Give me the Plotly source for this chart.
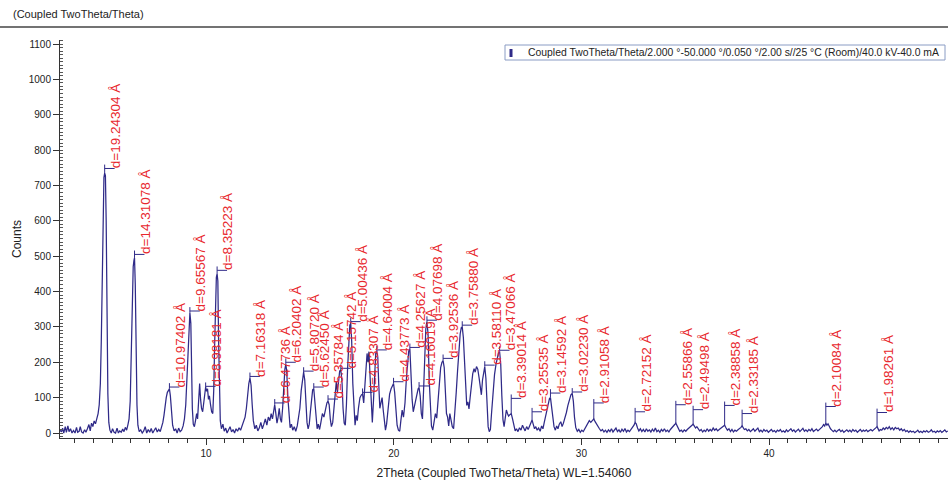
import plotly.graph_objects as go

# ---------------- data ----------------
two_theta = [
    2.22, 2.3, 2.36, 2.42, 2.5, 2.56, 2.64, 2.7, 2.78, 2.86, 2.94, 3.02, 3.1, 3.16, 3.24, 3.3, 3.37, 3.45, 3.53, 3.6,
    3.68, 3.76, 3.83, 3.9, 3.97, 4.04, 4.11, 4.18, 4.25, 4.31, 4.37, 4.42, 4.47, 4.52, 4.56, 4.6, 4.64, 4.68, 4.72, 4.77,
    4.82, 4.88, 4.95, 5.02, 5.1, 5.18, 5.26, 5.33, 5.4, 5.48, 5.56, 5.63, 5.7, 5.77, 5.84, 5.9, 5.96, 6.02, 6.07, 6.12,
    6.16, 6.19, 6.23, 6.27, 6.32, 6.37, 6.44,
    6.52, 6.6, 6.68, 6.76, 6.84, 6.92, 7.0, 7.08, 7.16, 7.24, 7.32, 7.4, 7.48, 7.56, 7.64, 7.7, 7.76, 7.82, 7.88, 7.94,
    8.0, 8.05, 8.1, 8.16, 8.22, 8.3, 8.38, 8.46, 8.54, 8.62, 8.7, 8.78, 8.85, 8.92, 8.98, 9.04, 9.09, 9.14, 9.19, 9.23,
    9.27, 9.32, 9.38, 9.44, 9.5, 9.55, 9.6, 9.66, 9.71, 9.76, 9.82, 9.88, 9.93, 9.98, 10.03, 10.08, 10.13, 10.18, 10.24, 10.3,
    10.36, 10.41, 10.46, 10.5, 10.55, 10.59, 10.63, 10.67, 10.71, 10.76, 10.82, 10.9, 10.97,
    11.05, 11.12, 11.2, 11.28, 11.36, 11.44, 11.52, 11.6, 11.68, 11.76, 11.84, 11.92, 12.0, 12.08, 12.15, 12.22, 12.28, 12.34, 12.4, 12.46,
    12.52, 12.6, 12.68, 12.76, 12.84, 12.92, 13.0, 13.08, 13.16, 13.24, 13.32, 13.4, 13.47, 13.54, 13.6, 13.66, 13.72, 13.78, 13.84, 13.9,
    13.96, 14.02, 14.08, 14.14, 14.2, 14.25, 14.3, 14.36, 14.42, 14.48, 14.55, 14.62, 14.7, 14.78, 14.86, 14.93, 15.0, 15.07, 15.14, 15.2,
    15.26, 15.32, 15.38, 15.44, 15.5, 15.56, 15.62, 15.68, 15.74, 15.8, 15.86, 15.92, 15.98, 16.05, 16.12, 16.2, 16.28, 16.36, 16.44, 16.5,
    16.56, 16.62, 16.68, 16.75, 16.82, 16.88, 16.94, 17.0, 17.06, 17.12, 17.18, 17.24, 17.3, 17.36, 17.42, 17.48, 17.54, 17.6, 17.66, 17.71,
    17.76, 17.82, 17.88, 17.94, 18.0, 18.06, 18.12, 18.2, 18.28, 18.34, 18.4, 18.46, 18.52, 18.58, 18.63, 18.68, 18.74, 18.8, 18.86, 18.92,
    18.98, 19.04, 19.1, 19.15, 19.2, 19.26, 19.32, 19.38, 19.44, 19.5, 19.56, 19.62, 19.7, 19.78, 19.86, 19.93, 19.99, 20.05, 20.11, 20.18,
    20.25,
    20.32, 20.38, 20.45, 20.52, 20.6, 20.67, 20.74, 20.8, 20.86, 20.92, 20.98, 21.04, 21.1, 21.17, 21.24, 21.3, 21.35, 21.41, 21.47, 21.53,
    21.59, 21.65, 21.71, 21.77, 21.83, 21.89, 21.95, 22.01, 22.08, 22.15, 22.22, 22.29, 22.36, 22.43, 22.5, 22.57, 22.63, 22.69, 22.75, 22.81,
    22.87, 22.93, 22.99, 23.05, 23.12, 23.19, 23.26, 23.33, 23.4, 23.47, 23.54, 23.6, 23.65, 23.71, 23.77, 23.83, 23.89, 23.95, 24.01, 24.07,
    24.14, 24.21, 24.28, 24.34, 24.41, 24.48, 24.55, 24.61, 24.67, 24.73, 24.79, 24.85, 24.91, 24.97, 25.03, 25.09, 25.15, 25.21, 25.29, 25.37,
    25.45, 25.52, 25.58, 25.64, 25.7, 25.76, 25.82, 25.88, 25.94, 26.0, 26.06, 26.12, 26.19, 26.26, 26.33, 26.4, 26.47,
    26.54, 26.62, 26.7, 26.78, 26.86, 26.93, 27.0, 27.08, 27.16, 27.24, 27.31, 27.37, 27.43, 27.5, 27.57, 27.64, 27.72, 27.8, 27.88, 27.95,
    28.02, 28.1, 28.17, 28.24, 28.3, 28.35, 28.41, 28.47, 28.54, 28.61, 28.68, 28.75, 28.82, 28.9, 28.97, 29.04, 29.12, 29.2, 29.28, 29.36,
    29.44, 29.51, 29.57, 29.63, 29.7, 29.78, 29.86, 29.94, 30.02, 30.1, 30.18, 30.26, 30.34, 30.42, 30.5, 30.58, 30.66, 30.73, 30.8, 30.88,
    30.96, 31.04, 31.12, 31.2, 31.28, 31.36, 31.44, 31.52, 31.6, 31.68, 31.76, 31.84, 31.92, 32.0, 32.08, 32.16, 32.24, 32.32, 32.4, 32.48,
    32.56, 32.64, 32.72, 32.8, 32.86, 32.92, 32.99, 33.06, 33.14, 33.22, 33.3, 33.38, 33.46, 33.54, 33.62, 33.7, 33.78, 33.86, 33.94, 34.02,
    34.1, 34.18, 34.26, 34.34, 34.42, 34.5, 34.58, 34.66, 34.74, 34.82, 34.9, 34.97, 35.03, 35.09, 35.16, 35.24, 35.32, 35.4, 35.48, 35.56,
    35.64, 35.72, 35.8, 35.88, 35.95, 36.01, 36.08, 36.15, 36.22, 36.3, 36.38, 36.46, 36.54, 36.62, 36.7, 36.78, 36.86, 36.94, 37.02, 37.1,
    37.18, 37.26, 37.34, 37.42, 37.5, 37.57, 37.63, 37.7, 37.78, 37.86, 37.94, 38.02, 38.1, 38.18, 38.26, 38.34, 38.42, 38.5, 38.56, 38.62,
    38.68, 38.76, 38.84, 38.92, 39.0, 39.08, 39.16, 39.24, 39.32, 39.4, 39.48, 39.56, 39.64, 39.72, 39.8, 39.88, 39.96, 40.04, 40.12, 40.2,
    40.28, 40.36, 40.44, 40.52, 40.6, 40.68, 40.76, 40.84, 40.92, 41.0, 41.08, 41.16, 41.24, 41.32, 41.4, 41.48, 41.56, 41.64, 41.72, 41.8,
    41.88, 41.96, 42.04, 42.12, 42.2, 42.28, 42.36, 42.44, 42.52, 42.6, 42.68, 42.76, 42.84, 42.9, 42.96, 43.02, 43.08, 43.14, 43.2, 43.27,
    43.34, 43.42, 43.5, 43.58, 43.66, 43.74, 43.82, 43.9, 43.98, 44.06, 44.14, 44.22, 44.3, 44.38, 44.46, 44.54, 44.62, 44.7, 44.78, 44.86,
    44.94, 45.02, 45.1, 45.18, 45.26, 45.34, 45.42, 45.5, 45.58, 45.65, 45.71, 45.75, 45.8, 45.86, 45.93, 46.0, 46.08, 46.16, 46.24, 46.32,
    46.4, 46.48, 46.56, 46.64, 46.72, 46.8, 46.88, 46.96, 47.04, 47.12, 47.2, 47.28, 47.36, 47.44, 47.52, 47.6, 47.68, 47.76, 47.84, 47.92,
    48.0, 48.08, 48.16, 48.24, 48.32, 48.4, 48.48, 48.56, 48.64, 48.72, 48.8, 48.88, 48.96, 49.04, 49.12, 49.2, 49.28, 49.36, 49.44, 49.52,
]
counts = [
    8, 3, 14, 0, 18, 2, 20, 4, 12, 0, 7, 0, 16, 2, 5, 18, 3, 0, 9, 2,
    12, 24, 6, 28, 18, 34, 26, 42, 55, 80, 140, 260, 480, 680, 722, 735, 728, 600, 340, 110,
    30, 8, 0, 12, 2, 0, 14, 0, 6, 2, 11, 4, 16, 8, 24, 40, 90, 220, 400, 470,
    488, 495, 420, 240, 80, 22, 4,
    9, 0, 6, 18, 0, 10, 2, 13, 0, 7, 15, 3, 10, 4, 18, 30, 50, 78, 100, 115,
    122, 125, 105, 60, 22, 6, 12, 0, 14, 4, 8, 20, 40, 80, 160, 250, 320, 340, 310, 180,
    70, 25, 18, 35, 55, 40, 90, 140, 95, 70, 60, 90, 120, 130, 118, 125, 95, 105, 80, 60,
    55, 120, 250, 400, 440, 450, 430, 260, 100, 35, 12, 25, 5,
    14, 0, 8, 18, 3, 10, 0, 12, 5, 15, 8, 20, 30, 45, 70, 110, 140, 155, 135, 80,
    35, 12, 22, 6, 15, 30, 12, 25, 40, 22, 45, 35, 55, 40, 65, 80, 55, 28, 45, 70,
    40, 30, 70, 130, 180, 195, 175, 100, 40, 15, 25, 8, 18, 5, 20, 40, 70, 120, 160, 172,
    150, 80, 30, 12, 25, 60, 100, 122, 125, 80, 30, 12, 25, 10, 30, 55, 45, 70, 85, 90,
    80, 40, 18, 30, 70, 120, 145, 115, 150, 175, 178, 150, 70, 28, 22, 80, 180, 270, 305, 310,
    260, 140, 55, 22, 50, 35, 70, 100, 108, 110, 85, 130, 190, 225, 200, 230, 160, 70, 30, 90,
    180, 225, 232, 215, 140, 70, 85, 100, 65, 25, 8, 25, 70, 110, 125, 135, 140, 115, 60, 22,
    8,
    5, 35, 65, 45, 85, 150, 205, 232, 238, 160, 95, 60, 75, 95, 115, 125, 128, 105, 55, 40,
    120, 220, 295, 315, 280, 150, 60, 20, 8, 28, 55, 42, 85, 145, 185, 200, 205, 185, 110, 55,
    45, 20, 55, 38, 18, 12, 55, 115, 175, 235, 280, 298, 300, 270, 190, 110, 78, 88, 68, 100,
    140, 168, 182, 172, 188, 180, 155, 125, 108, 150, 178, 188, 155, 75, 18, 4, 10, 55, 115, 165,
    195, 215, 226, 230, 195, 105, 38, 18, 38, 65, 55, 48, 52, 55, 40, 18, 6,
    12, 4, 15, 8, 22, 12, 6, 18, 10, 20, 30, 37, 25, 12, 18, 8, 14, 5, 20, 12,
    30, 50, 70, 88, 98, 100, 75, 40, 18, 8, 20, 12, 25, 32, 18, 28, 42, 58, 78, 95,
    108, 112, 90, 45, 15, 5, 10, 2, 8, 4, 12, 20, 28, 35, 30, 34, 40, 32, 25, 20,
    12, 6, 10, 3, 8, 2, 9, 4, 12, 3, 8, 14, 4, 9, 2, 11, 5, 13, 3, 8,
    4, 10, 15, 22, 30, 26, 14, 6, 12, 4, 10, 3, 12, 5, 9, 3, 11, 5, 14, 4,
    8, 2, 10, 5, 12, 4, 8, 3, 10, 14, 18, 24, 28, 20, 10, 5, 8, 3, 9, 5,
    10, 14, 18, 22, 25, 20, 14, 18, 12, 6, 10, 3, 8, 4, 12, 5, 10, 6, 14, 8,
    12, 6, 10, 14, 16, 20, 22, 15, 8, 12, 4, 10, 3, 8, 5, 9, 12, 16, 20, 16,
    10, 12, 6, 10, 4, 8, 12, 5, 9, 14, 4, 8, 3, 10, 5, 8, 2, 6, 10, 4,
    7, 2, 8, 5, 10, 3, 6, 2, 9, 4, 8, 12, 5, 9, 3, 7, 11, 4, 8, 13,
    5, 9, 4, 10, 6, 12, 4, 8, 11, 6, 10, 14, 18, 24, 20, 28, 22, 26, 18, 12,
    8, 4, 8, 3, 7, 10, 4, 8, 2, 6, 9, 4, 8, 3, 10, 5, 8, 2, 6, 10,
    4, 8, 5, 9, 4, 7, 10, 6, 9, 12, 16, 18, 12, 6, 10, 8, 14, 10, 16, 12,
    18, 10, 15, 9, 16, 12, 14, 8, 12, 6, 10, 4, 7, 2, 6, 3, 5, 1, 4, 8,
    2, 5, 1, 6, 3, 7, 2, 4, 9, 3, 5, 1, 6, 3, 7, 2, 5, 9, 3, 6,
]

# labelled reflections
d_values = [19.24304, 14.31078, 10.97402, 9.65567, 8.98181, 8.35223, 7.16318, 6.47736, 6.20402,
            5.80720, 5.62450, 5.35784, 5.15742, 5.00436, 4.83307, 4.64004, 4.43773, 4.25627,
            4.16019, 4.07698, 3.92536, 3.75880, 3.58110, 3.47066, 3.39014, 3.25535, 3.14592,
            3.02230, 2.91058, 2.72152, 2.55866, 2.49498, 2.38858, 2.33185, 2.10084, 1.98261]
peak_two_theta = [4.60, 6.19, 8.05, 9.14, 9.98, 10.59, 12.34, 13.66, 14.25,
                  15.20, 15.74, 16.50, 17.18, 17.71, 18.34, 19.10, 19.99, 20.86,
                  21.35, 21.77, 22.63, 23.65, 24.85, 25.64, 26.26, 27.37, 28.35,
                  29.51, 30.66, 32.86, 35.03, 35.95, 37.63, 38.56, 43.02, 45.75]
peak_counts = [735, 495, 125, 340, 130, 450, 155, 80, 195,
               172, 125, 90, 178, 310, 110, 232, 140, 238,
               128, 315, 205, 300, 188, 230, 55, 37, 100,
               112, 40, 30, 28, 25, 22, 20, 28, 18]
marker_counts = [748, 505, 130, 345, 132, 460, 160, 85, 200,
                 175, 130, 96, 183, 315, 115, 235, 145, 242,
                 133, 319, 211, 305, 192, 234, 98, 60, 113,
                 116, 85, 60, 80, 66, 78, 55, 75, 58]

title_text = "(Coupled TwoTheta/Theta)"
legend_text = "Coupled TwoTheta/Theta/2.000 °-50.000 °/0.050 °/2.00 s//25 °C (Room)/40.0 kV-40.0 mA"
x_title = "2Theta (Coupled TwoTheta/Theta) WL=1.54060"
y_title = "Counts"

# ---------------- styling ----------------
NAVY = "#2f2a88"
RED = "#e8282e"
FONT = "Arial, Liberation Sans, Helvetica, sans-serif"
X_RANGE = [2.22, 49.53]
Y_RANGE = [-14.1, 1111.3]
TICK_DX = 0.53      # horizontal arm of label marker (deg)
TICK_UP = 11        # vertical overshoot of label marker (counts)

W, H = 948, 487
ML, MR, MT, MB = 60, 0, 40, 49
PW, PH = W - ML - MR, H - MT - MB


def px(xp):
    return (xp - ML) / PW


def py(yp):
    return (H - MB - yp) / PH


fig = go.Figure()

fig.add_trace(go.Scatter(x=two_theta, y=counts, mode="lines",
                         line=dict(color=NAVY, width=1.25), showlegend=False,
                         name=legend_text, hoverinfo="x+y"))

# peak markers
mx, my = [], []
for x0, h, m in zip(peak_two_theta, peak_counts, marker_counts):
    mx += [x0, x0, None, x0, x0 + TICK_DX, None]
    my += [h, m + TICK_UP, None, m, m, None]
fig.add_trace(go.Scatter(x=mx, y=my, mode="lines", line=dict(color=NAVY, width=1),
                         showlegend=False, hoverinfo="skip"))

annotations = []
for x0, m, d in zip(peak_two_theta, marker_counts, d_values):
    annotations.append(dict(x=x0, y=m, xref="x", yref="y", text=f"d={d:.5f} Å",
                            textangle=-90, showarrow=False, xanchor="center",
                            yanchor="bottom", xshift=11, yshift=-2,
                            font=dict(family=FONT, size=13.5, color=RED)))
# header title
annotations.append(dict(x=px(11), y=py(14), xref="paper", yref="paper", text=title_text,
                        showarrow=False, xanchor="left", yanchor="middle",
                        font=dict(family=FONT, size=11, color="#222")))
# legend text (boxed legend drawn with shapes below)
annotations.append(dict(x=px(526), y=py(52.5), xref="paper", yref="paper", text=legend_text,
                        showarrow=False, xanchor="left", yanchor="middle",
                        font=dict(family=FONT, size=10.4, color="#222")))

shapes = [
    dict(type="line", xref="paper", yref="paper", x0=px(0), x1=px(W),
         y0=py(27), y1=py(27), line=dict(color="#444", width=1.5)),
    dict(type="rect", xref="paper", yref="paper", x0=px(505), x1=px(945),
         y0=py(60), y1=py(45), line=dict(color="#8a9cc4", width=1), fillcolor="white",
         layer="above"),
    dict(type="line", xref="paper", yref="paper", x0=px(511), x1=px(511),
         y0=py(57), y1=py(49), line=dict(color=NAVY, width=3), layer="above"),
]

fig.update_layout(
    width=W, height=H,
    margin=dict(l=ML, r=MR, t=MT, b=MB, autoexpand=False),
    paper_bgcolor="white", plot_bgcolor="white",
    font=dict(family=FONT, color="#222"),
    showlegend=False,
    annotations=annotations,
    shapes=shapes,
    xaxis=dict(range=X_RANGE, tickvals=[10, 20, 30, 40, 50], ticks="outside",
               ticklen=6, tickcolor="#333", showline=True, linecolor="#333",
               linewidth=1, showgrid=False, zeroline=False, automargin=False,
               tickfont=dict(size=10, color="#222"),
               minor=dict(dtick=1, tick0=0, ticks="outside", ticklen=4, tickcolor="#333"),
               title=dict(text=x_title, font=dict(size=12, color="#222"), standoff=10)),
    yaxis=dict(range=Y_RANGE, tick0=0, dtick=100, ticks="outside", ticklen=6,
               tickcolor="#333", showline=True, linecolor="#333", linewidth=1,
               showgrid=False, zeroline=False, automargin=False,
               tickfont=dict(size=10, color="#222"),
               minor=dict(dtick=10, tick0=0, ticks="inside", ticklen=3, tickcolor="#555"),
               title=dict(text=y_title, font=dict(size=12, color="#222"), standoff=4)),
)

fig.write_html("out.html", config={"displayModeBar": False},
               post_script="document.body.style.margin='0';document.body.style.overflow='hidden';")
